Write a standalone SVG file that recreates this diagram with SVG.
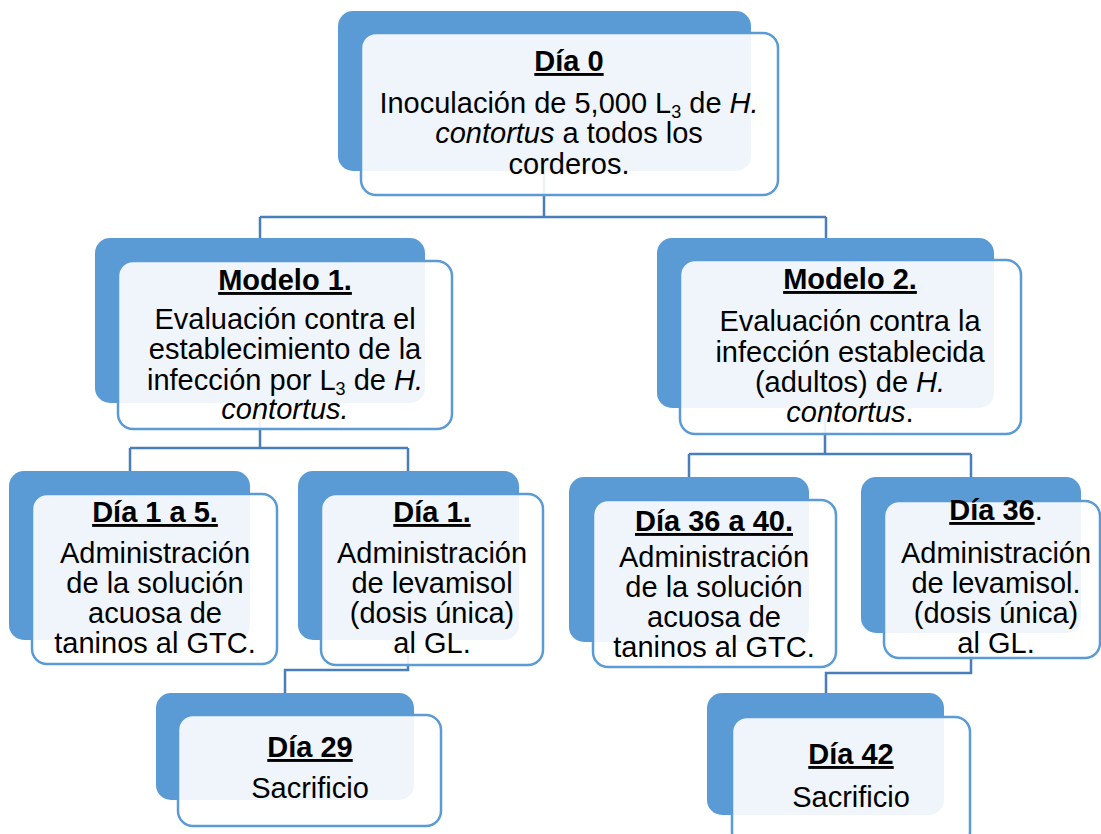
<svg xmlns="http://www.w3.org/2000/svg" width="1101" height="834" viewBox="0 0 1101 834">
<style>
.back{fill:#5B9BD5}
.front{fill:#FFFFFF;fill-opacity:0.9;stroke:#5B9BD5;stroke-width:2.5}
.conn{fill:none;stroke:#4A7EBB;stroke-width:2.5}
text{font-family:"Liberation Sans",Arial,sans-serif;font-size:29px;fill:#000;text-anchor:middle}
.t{font-weight:bold;text-decoration:underline}
.i{font-style:italic}
.sub{font-size:18px}
</style>
<rect width="1101" height="834" fill="#FFFFFF"/>
<g id="connectors">
<path class="conn" d="M544,171 V217 M260,217 H826 M260,217 V238 M826,217 V238"/>
<path class="conn" d="M260,403 V448 M130,448 H408 M130,448 V471 M408,448 V471"/>
<path class="conn" d="M825,408 V454 M689,454 H971 M689,454 V477 M971,454 V477"/>
<path class="conn" d="M408,640 V670 H285 V693"/>
<path class="conn" d="M971,633 V673 H826 V693"/>
</g>
<g id="dia0">
<rect class="back" x="338" y="11" width="413" height="160" rx="15"/>
<rect class="front" x="361" y="33" width="417" height="162" rx="15"/>
<text x="569" y="71" class="t">Día 0</text>
<text x="569" y="113">Inoculación de 5,000 L<tspan class="sub" dy="5">3</tspan><tspan dy="-5"> de </tspan><tspan class="i">H.</tspan></text>
<text x="569" y="143"><tspan class="i">contortus</tspan> a todos los</text>
<text x="569" y="174">corderos.</text>
</g>
<g id="modelo1">
<rect class="back" x="95" y="238" width="330" height="165" rx="15"/>
<rect class="front" x="118" y="261" width="334" height="168" rx="15"/>
<text x="285" y="290" class="t">Modelo 1.</text>
<text x="285" y="329">Evaluación contra el</text>
<text x="285" y="359">establecimiento de la</text>
<text x="285" y="390">infección por L<tspan class="sub" dy="5">3</tspan><tspan dy="-5"> de </tspan><tspan class="i">H.</tspan></text>
<text x="285" y="419" class="i">contortus.</text>
</g>
<g id="modelo2">
<rect class="back" x="657" y="238" width="337" height="170" rx="15"/>
<rect class="front" x="680" y="260" width="341" height="174" rx="15"/>
<text x="850" y="289" class="t">Modelo 2.</text>
<text x="850" y="331">Evaluación contra la</text>
<text x="850" y="362">infección establecida</text>
<text x="850" y="392">(adultos) de <tspan class="i">H.</tspan></text>
<text x="850" y="422"><tspan class="i">contortus</tspan>.</text>
</g>
<g id="dia1a5">
<rect class="back" x="9" y="471" width="241" height="169" rx="15"/>
<rect class="front" x="32" y="494" width="245" height="170" rx="15"/>
<text x="155" y="522" class="t">Día 1 a 5.</text>
<text x="155" y="563">Administración</text>
<text x="155" y="593">de la solución</text>
<text x="155" y="623">acuosa de</text>
<text x="155" y="653">taninos al GTC.</text>
</g>
<g id="dia1">
<rect class="back" x="298" y="471" width="221" height="169" rx="15"/>
<rect class="front" x="321" y="494" width="222" height="171" rx="15"/>
<text x="432" y="522" class="t">Día 1.</text>
<text x="432" y="563">Administración</text>
<text x="432" y="593">de levamisol</text>
<text x="432" y="623">(dosis única)</text>
<text x="432" y="653">al GL.</text>
</g>
<g id="dia36a40">
<rect class="back" x="569" y="477" width="240" height="165" rx="15"/>
<rect class="front" x="593" y="500" width="243" height="167" rx="15"/>
<text x="714" y="531" class="t">Día 36 a 40.</text>
<text x="714" y="567">Administración</text>
<text x="714" y="597">de la solución</text>
<text x="714" y="627">acuosa de</text>
<text x="714" y="657">taninos al GTC.</text>
</g>
<g id="dia36">
<rect class="back" x="861" y="477" width="220" height="156" rx="15"/>
<rect class="front" x="884" y="501" width="216" height="157" rx="15"/>
<text x="996" y="520"><tspan class="t">Día 36</tspan>.</text>
<text x="996" y="563">Administración</text>
<text x="996" y="593">de levamisol.</text>
<text x="996" y="623">(dosis única)</text>
<text x="996" y="653">al GL.</text>
</g>
<g id="dia29">
<rect class="back" x="156" y="693" width="258" height="107" rx="15"/>
<rect class="front" x="178" y="715" width="263" height="111" rx="15"/>
<text x="310" y="757" class="t">Día 29</text>
<text x="310" y="798">Sacrificio</text>
</g>
<g id="dia42">
<rect class="back" x="707" y="693" width="237" height="122" rx="15"/>
<rect class="front" x="732" y="717" width="238" height="130" rx="15"/>
<text x="851" y="764" class="t">Día 42</text>
<text x="851" y="807">Sacrificio</text>
</g>
</svg>
